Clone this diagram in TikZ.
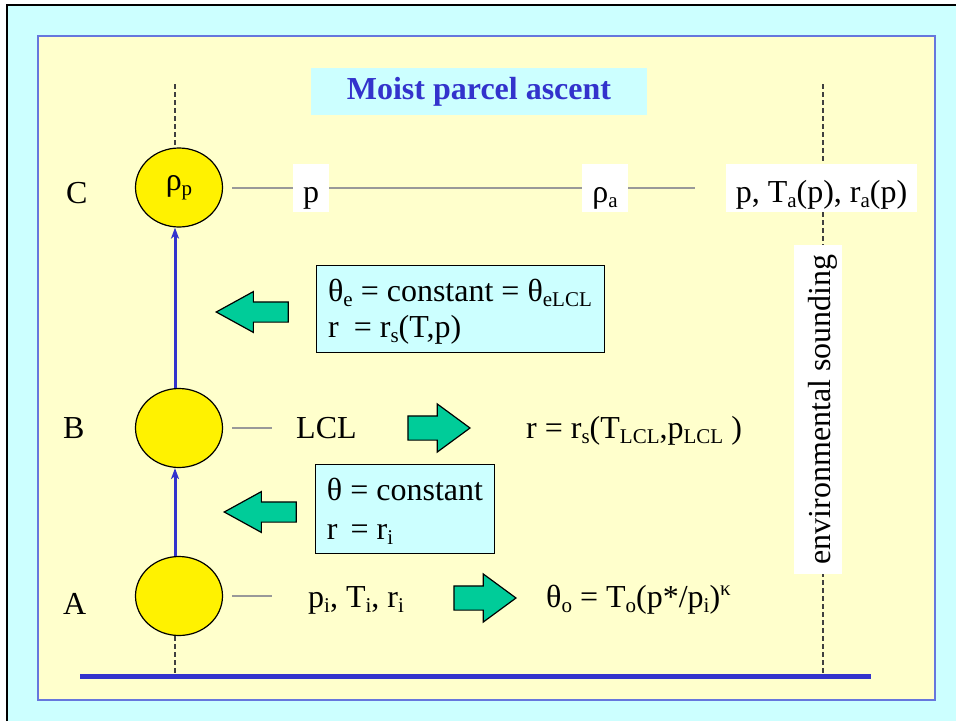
\documentclass[tikz,border=0pt]{standalone}
\usepackage{fontspec}
\setmainfont{Liberation Serif}
\usetikzlibrary{shapes.geometric,shapes.arrows,arrows.meta}
\definecolor{slidecyan}{HTML}{CCFFFF}
\definecolor{slideyellow}{HTML}{FFFFCC}
\definecolor{slideblue}{HTML}{3333CC}
\definecolor{panelblue}{HTML}{6677DD}
\definecolor{pushgreen}{HTML}{00CC99}
\definecolor{tickgray}{HTML}{999999}
\newcommand{\subx}[1]{\raisebox{-5pt}{\fontsize{21}{21}\selectfont #1}}
\newcommand{\supx}[1]{\raisebox{12pt}{\fontsize{21}{21}\selectfont #1}}
\begin{document}
\begin{tikzpicture}[x=1pt,y=-1pt,font=\fontsize{32}{36}\selectfont,
  parcel/.style={ellipse,draw,line width=1.2pt,fill=yellow,minimum width=87pt,minimum height=79pt,inner sep=0pt},
  cond/.style={draw,line width=1pt,fill=slidecyan,align=left,inner xsep=11pt,inner ysep=0pt},
  wbox/.style={fill=white,inner xsep=0pt,inner ysep=0pt,text height=39pt,text depth=9pt},
  lab/.style={inner sep=0pt,anchor=base west},
  tick/.style={draw=tickgray,line width=2pt},
  sounding/.style={draw=black!75,line width=1.3pt,dash pattern=on 5pt off 3pt},
  rise/.style={draw=slideblue,line width=3pt,-{Stealth[length=11pt,width=8pt,inset=3pt]}},
  pushl/.style={single arrow,draw,line width=1.2pt,fill=pushgreen,shape border rotate=180,anchor=tip,
    minimum height=72pt,single arrow head extend=10.3pt,single arrow tip angle=57.6,inner xsep=0pt,inner ysep=9.5pt},
  pushr/.style={single arrow,draw,line width=1.2pt,fill=pushgreen,anchor=tip,
    minimum height=62pt,single arrow head extend=12pt,single arrow tip angle=72.6,inner xsep=0pt,inner ysep=11.5pt}]
  % slide background
  \useasboundingbox (0,0) rectangle (956,721);
  \fill[white] (0,0) rectangle (956,721);
  \fill[slidecyan] (7,5) rectangle (956,721);
  \draw[line width=2.5pt] (7,721) -- (7,5) -- (956,5);
  \draw[panelblue,line width=2pt,fill=slideyellow] (38,36) rectangle (935,700);
  \node[fill=slidecyan,minimum width=336pt,minimum height=47pt,inner sep=0pt,text=slideblue,font=\fontsize{32}{36}\selectfont\bfseries] (title) at (479,91.5) {Moist parcel ascent};
  % vertical guides and ground
  \coordinate (ltop) at (175,84);
  \coordinate (lbot) at (175,676);
  \coordinate (rtop) at (823,84);
  \coordinate (rbot) at (823,676);
  \coordinate (g1) at (80,676);
  \coordinate (g2) at (871,676);
  \draw[sounding] (rtop) -- (rbot);
  % parcels
  \node[parcel] (C) at (179,187.5) {ρ\subx{p}};
  \node[parcel] (B) at (179,428) {};
  \node[parcel] (A) at (179,596) {};
  \draw[sounding] (ltop) -- ([xshift=-4pt]C.north);
  \draw[sounding] ([xshift=-4pt]A.south) -- (lbot);
  \draw[slideblue,line width=5pt] (g1) -- (g2);
  \draw[rise] ([xshift=-4pt]A.north) -- ([xshift=-4pt]B.south);
  \draw[rise] ([xshift=-4pt]B.north) -- ([xshift=-4pt]C.south);
  \node[lab] (lC) at (66,203) {C};
  \node[lab] (lB) at (63,438) {B};
  \node[lab] (lA) at (63,614) {A};
  % level C
  \node[wbox,minimum width=36pt] (pC) at (311,187.5) {p};
  \node[wbox,minimum width=46pt] (rhoa) at (605,187.5) {ρ\subx{a}};
  \node[wbox,minimum width=191pt] (env) at (821.5,187.5) {p, T\subx{a}(p), r\subx{a}(p)};
  \draw[tick] ([xshift=9pt]C.east) -- (pC.west);
  \draw[tick] (pC.east) -- (rhoa.west);
  \draw[tick] (rhoa.east) -- ++(67,0);
  \node[wbox,rotate=90,minimum width=329pt,text height=36pt,text depth=12pt] (snd) at (818,409.5) {environmental sounding};
  % saturated ascent
  \node[cond,minimum width=288pt,minimum height=87pt] (sat) at (460,308.5)
    {\rule{0pt}{29pt}θ\subx{e} = constant = θ\subx{eLCL}\\[0pt]r\hspace{15pt}= r\subx{s}(T,p)};
  \node[pushl] (ps) at (215,312) {};
  % level B
  \draw[tick] ([xshift=9pt]B.east) -- ++(40,0);
  \node[lab] (lcl) at (296,438) {LCL};
  \node[pushr] (pB) at (471,428) {};
  \node[lab] (rs) at (526,438) {r = r\subx{s}(T\subx{LCL},p\subx{LCL} )};
  % dry ascent
  \node[cond,minimum width=178pt,minimum height=89pt] (dry) at (405,508.5)
    {\rule{0pt}{27pt}θ = constant\\[3pt]r\hspace{13pt}= r\subx{i}};
  \node[pushl] (pd) at (223,512) {};
  % level A
  \draw[tick] ([xshift=9pt]A.east) -- ++(40,0);
  \node[lab] (pTr) at (308,607) {p\subx{i}, T\subx{i}, r\subx{i}};
  \node[pushr] (pA) at (517,598) {};
  \node[lab] (th0) at (546,607) {θ\subx{o} = T\subx{o}(p*/p\subx{i})\supx{κ}};
\end{tikzpicture}
\end{document}
